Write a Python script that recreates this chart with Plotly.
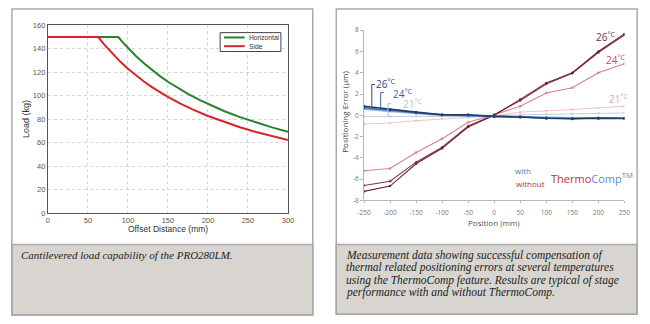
import plotly.graph_objects as go

W, H = 650, 324
def px(x): return x / W
def py(y): return 1 - y / H

# ---------------- Left chart data ----------------
hz_x = [0, 88, 95, 100, 110, 120, 130, 140, 150, 160, 175, 190, 205, 220, 240, 260, 280, 300]
hz_y = [150, 150, 144.5, 140.8, 133.9, 127.7, 122.0, 116.8, 112.0, 107.6, 101.7, 96.3, 91.5, 87.1, 81.9, 77.3, 73.2, 69.5]
sd_x = [0, 63, 70, 80, 90, 100, 110, 120, 130, 140, 150, 165, 180, 200, 220, 240, 260, 280, 300]
sd_y = [150, 150, 144.0, 136.3, 129.4, 123.1, 117.4, 112.2, 107.5, 103.1, 99.1, 93.6, 88.7, 82.9, 77.8, 73.3, 69.3, 65.7, 62.5]
legend_names = ["Horizontal", "Side"]

# ---------------- Right chart data ----------------
pos = [-250, -200, -150, -100, -50, 0, 50, 100, 150, 200, 250]
wo_26a = [-7.15, -6.65, -4.55, -3.1, -1.1, 0.0, 1.5, 3.05, 4.0, 6.0, 7.65]
wo_26b = [-6.6, -6.2, -4.4, -3.0, -1.0, 0.05, 1.4, 2.95, 3.95, 5.9, 7.55]
wo_24 = [-5.2, -5.0, -3.5, -2.2, -0.65, 0.05, 0.85, 2.1, 2.6, 4.0, 4.85]
wo_21 = [-0.8, -0.72, -0.5, -0.35, -0.2, -0.05, 0.3, 0.4, 0.55, 0.7, 0.85]
w_26 = [0.85, 0.55, 0.3, 0.05, 0.05, -0.1, -0.15, -0.28, -0.32, -0.28, -0.3]
w_24 = [0.72, 0.45, 0.25, 0.05, 0.0, -0.1, -0.15, -0.25, -0.3, -0.25, -0.28]
w_24b = [0.6, 0.38, 0.2, 0.02, -0.02, -0.1, -0.12, -0.2, -0.25, -0.22, -0.25]
w_21 = [-0.12, -0.12, -0.08, -0.05, -0.05, -0.08, 0.05, 0.1, 0.15, 0.2, 0.22]

x2_ticks = [-250, -200, -150, -100, -50, 0, 50, 100, 150, 200, 250]
x2_text = ["-250", "-200", "-150", "-100", "-50", "0", "50", "100", "150", "200", "250"]
y2_ticks = [-8, -6, -4, -2, 0, 2, 4, 6, 8]
y2_text = ["-8", "-6", "-4", "-2", "0", "2", "4", "6", "8"]

caption_left = "Cantilevered load capability of the PRO280LM."
caption_right = [
    "Measurement data showing successful compensation of",
    "thermal related positioning errors at several temperatures",
    "using the ThermoComp feature. Results are typical of stage",
    "performance with and without ThermoComp.",
]

GREEN, RED = "#26822e", "#d8232b"

fig = go.Figure()

fig.add_trace(go.Scatter(x=hz_x, y=hz_y, mode="lines", name=legend_names[0], showlegend=False,
                         line=dict(color=GREEN, width=2), xaxis="x", yaxis="y"))
fig.add_trace(go.Scatter(x=sd_x, y=sd_y, mode="lines", name=legend_names[1], showlegend=False,
                         line=dict(color=RED, width=2), xaxis="x", yaxis="y"))

def rline(y, color, width=1.2, msize=2.5):
    fig.add_trace(go.Scatter(x=pos, y=y, mode="lines+markers", showlegend=False,
                             line=dict(color=color, width=width),
                             marker=dict(color=color, size=msize),
                             xaxis="x2", yaxis="y2"))

rline(wo_21, "#efc3c7", 1.0)
rline(w_21, "#c2d0e2", 1.0)
rline(wo_24, "#d2848c", 1.1)
rline(wo_26b, "#8e3444", 1.1)
rline(wo_26a, "#6a2535", 1.1)
rline(w_24b, "#8fb1da", 2.0)
rline(w_24, "#3f6dab", 1.6)
rline(w_26, "#1f3c6e", 1.6, 3)

shapes = []
# panel borders
for (x0, x1, y1) in [(5, 312, 320), (336, 643, 319)]:
    shapes.append(dict(type="rect", xref="paper", yref="paper",
                       x0=px(x0), x1=px(x1), y0=py(247), y1=py(y1),
                       fillcolor="#d8d5d0", line=dict(color="#a9a9a9", width=1.5), layer="below"))
    shapes.append(dict(type="rect", xref="paper", yref="paper",
                       x0=px(x0), x1=px(x1), y0=py(y1), y1=py(4),
                       fillcolor="rgba(0,0,0,0)", line=dict(color="#a9a9a9", width=1.5)))

# manual legend box (left chart)
shapes.append(dict(type="rect", xref="paper", yref="paper", x0=px(217.5), x1=px(279.5), y0=py(48), y1=py(28.5),
                   fillcolor="white", line=dict(color="#444", width=1)))
for (ly, col) in [(33.5, GREEN), (42.5, RED)]:
    shapes.append(dict(type="line", xref="paper", yref="paper", x0=px(221.5), x1=px(242.5), y0=py(ly), y1=py(ly),
                       line=dict(color=col, width=2)))

# brackets for left-side labels (right chart)
for (bx, ylo, yhi, col) in [(-235, 0.85, 2.9, "#2d4a7a"), (-218, 0.72, 2.15, "#3a64a0"), (-204, -0.12, 1.1, "#a8c0e0")]:
    shapes.append(dict(type="line", xref="x2", yref="y2", x0=bx, x1=bx, y0=ylo, y1=yhi,
                       line=dict(color=col, width=1)))
    shapes.append(dict(type="line", xref="x2", yref="y2", x0=bx, x1=bx + 6, y0=yhi, y1=yhi,
                       line=dict(color=col, width=1)))

ann = []
def A(text, x, y, size, color, family="Liberation Sans", xanchor="center", yanchor="middle", angle=0,
      xref="paper", yref="paper"):
    ann.append(dict(text=text, x=x, y=y, xref=xref, yref=yref, showarrow=False, textangle=angle,
                    xanchor=xanchor, yanchor=yanchor, borderpad=0,
                    font=dict(family=family, size=size, color=color)))

A(legend_names[0], px(246), py(33.5), 6.7, "#333", xanchor="left")
A(legend_names[1], px(246), py(42.5), 6.7, "#333", xanchor="left")

A("Load (kg)", px(20), py(118), 9, "#333", angle=-90)
A("Offset Distance (mm)", px(164), py(231), 8.5, "#333")
A("Position (mm)", px(497), py(224.5), 8, "#555", family="Open Sans")
A("Positioning Error (µm)", px(344), py(110), 8, "#444", family="Open Sans", angle=-90)

A("<i>" + caption_left + "</i>", px(13), py(258), 11, "#222", family="Liberation Serif", xanchor="left")
for i, line in enumerate(caption_right):
    A("<i>" + line + "</i>", px(345), py(258 + i * 13), 11.5, "#222", family="Liberation Serif", xanchor="left")

# temperature labels
for (tx, ty, t, col) in [(-208, 2.9, "26", "#2d4a7a"), (-177, 2.0, "24", "#3a64a0"), (-157, 1.05, "21", "#a8c0e0"),
                         (213, 7.35, "26", "#70303f"), (232, 5.2, "24", "#c8485a"), (238, 1.55, "21", "#e6a6ae")]:
    A(t + "<sup>°C</sup>", tx, ty, 10, col, family="Open Sans", xref="x2", yref="y2")

A("with", px(527), py(171), 8, "#4a7ab8", family="Open Sans")
A("without", px(534), py(184), 8, "#b03444", family="Open Sans")
A('<span style="color:#b8303a">Thermo</span><span style="color:#5b8bc9">Comp</span><sup>TM</sup>',
  px(554), py(178), 11, "#6a7a9a", family="Open Sans", xanchor="left")

fig.update_layout(
    width=W, height=H, margin=dict(l=0, r=0, t=0, b=0),
    paper_bgcolor="white", plot_bgcolor="white", showlegend=False,
    shapes=shapes, annotations=ann,
    xaxis=dict(domain=[px(41.7), px(286.7)], range=[0, 300], dtick=50, anchor="y",
               showline=True, mirror=True, linecolor="#555", linewidth=1,
               showgrid=True, gridcolor="#d4d4d4", griddash="dot", zeroline=False, ticks="",
               tickfont=dict(family="Liberation Sans", size=7.5, color="#555")),
    yaxis=dict(domain=[py(215), py(21)], range=[0, 160], dtick=20, anchor="x",
               showline=True, mirror=True, linecolor="#555", linewidth=1,
               showgrid=True, gridcolor="#d4d4d4", griddash="dot", zeroline=False, ticks="",
               tickfont=dict(family="Liberation Sans", size=7.5, color="#555")),
    xaxis2=dict(domain=[px(364.3), px(630)], range=[-250, 250], anchor="y2",
                tickvals=x2_ticks, ticktext=x2_text, ticklabelstandoff=4,
                showline=True, linecolor="#b5b5b5", linewidth=1, ticks="outside", ticklen=2, tickcolor="#b5b5b5",
                showgrid=False, zeroline=False,
                tickfont=dict(family="Open Sans", size=6.5, color="#777")),
    yaxis2=dict(domain=[py(201.7), py(26)], range=[-8, 8], anchor="x2",
                tickvals=y2_ticks, ticktext=y2_text,
                showline=True, linecolor="#b5b5b5", linewidth=1, ticks="outside", ticklen=3, tickcolor="#b5b5b5",
                showgrid=False, zeroline=False,
                tickfont=dict(family="Open Sans", size=6.5, color="#777")),
)

fig.write_html("out.html")
